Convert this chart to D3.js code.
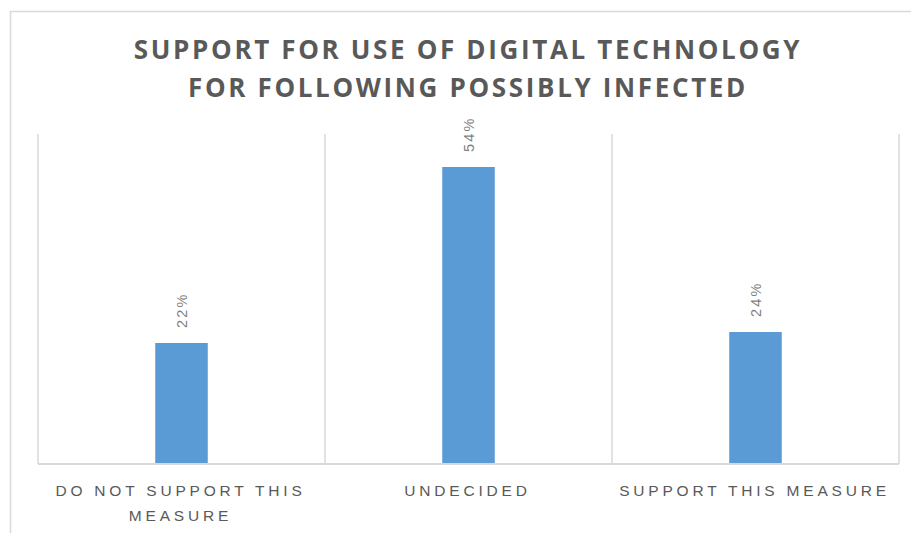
<!DOCTYPE html>
<html>
<head>
<meta charset="utf-8">
<script src="https://cdn.jsdelivr.net/npm/d3@7"></script>
<style>
  html, body { margin: 0; padding: 0; background: #fff; }
  svg { display: block; }
</style>
</head>
<body>
<svg id="chart" width="911" height="533"></svg>
<script>
// Survey answers and their shares (percent)
const categories = ["DO NOT SUPPORT THIS MEASURE", "UNDECIDED", "SUPPORT THIS MEASURE"];
const categoryLines = [["DO NOT SUPPORT THIS", "MEASURE"], ["UNDECIDED"], ["SUPPORT THIS MEASURE"]];
const values = [22, 54, 24];
const valueLabels = ["22%", "54%", "24%"];
const titleLines = ["SUPPORT FOR USE OF DIGITAL TECHNOLOGY", "FOR FOLLOWING POSSIBLY INFECTED"];

const svg = d3.select("#chart");
const plot = { left: 38, right: 899, top: 134, bottom: 464 };

// chart frame (runs off the right and bottom edges)
svg.append("rect")
  .attr("x", 10.5).attr("y", 11.5)
  .attr("width", 1000).attr("height", 1000)
  .attr("fill", "#fff").attr("stroke", "#d9d9d9").attr("stroke-width", 1.5);

// title
const title = svg.append("text")
  .attr("text-anchor", "middle")
  .attr("font-family", "'Open Sans', sans-serif")
  .attr("font-weight", 700)
  .attr("font-size", 26)
  .attr("letter-spacing", "2.65px")
  .attr("fill", "#595959");
titleLines.forEach((t, i) => {
  title.append("tspan").attr("x", 468).attr("y", 59 + i * 37.5).text(t);
});

const x = d3.scaleBand().domain(categories).range([plot.left, plot.right]).padding(0);
const y = d3.scaleLinear().domain([0, 60]).range([plot.bottom, plot.top]);
const barW = x.bandwidth() * 0.183;

// vertical separators between categories
const edges = [plot.left, ...categories.map(c => x(c) + x.bandwidth())];
svg.append("g").selectAll("line").data(edges).join("line")
  .attr("x1", d => d).attr("x2", d => d)
  .attr("y1", plot.top).attr("y2", plot.bottom)
  .attr("stroke", "#d9d9d9").attr("stroke-width", 1.5);

// bars
svg.append("g").selectAll("rect").data(values).join("rect")
  .attr("x", (d, i) => x(categories[i]) + x.bandwidth() / 2 - barW / 2)
  .attr("y", d => y(d))
  .attr("width", barW)
  .attr("height", d => y(0) - y(d))
  .attr("fill", "#5b9bd5");

// baseline
svg.append("line")
  .attr("x1", plot.left).attr("x2", plot.right)
  .attr("y1", plot.bottom).attr("y2", plot.bottom)
  .attr("stroke", "#d9d9d9").attr("stroke-width", 2);

// rotated value labels
svg.append("g").selectAll("text").data(values).join("text")
  .attr("transform", (d, i) => `translate(${x(categories[i]) + x.bandwidth() / 2 + 5},${y(d) - 15}) rotate(-90)`)
  .attr("font-family", "'Liberation Sans', Arial, sans-serif")
  .attr("font-size", 14.5)
  .attr("letter-spacing", "2.2px")
  .attr("fill", "#7f7f7f")
  .text((d, i) => valueLabels[i]);

// category labels
const catG = svg.append("g")
  .attr("font-family", "'Liberation Sans', Arial, sans-serif")
  .attr("font-size", 15.5)
  .attr("letter-spacing", "3.8px")
  .attr("fill", "#595959")
  .attr("text-anchor", "middle");
categories.forEach((c, i) => {
  const t = catG.append("text");
  categoryLines[i].forEach((line, j) => {
    t.append("tspan")
      .attr("x", x(c) + x.bandwidth() / 2 - 1)
      .attr("y", 496 + j * 24.5)
      .text(line);
  });
});
</script>
</body>
</html>
